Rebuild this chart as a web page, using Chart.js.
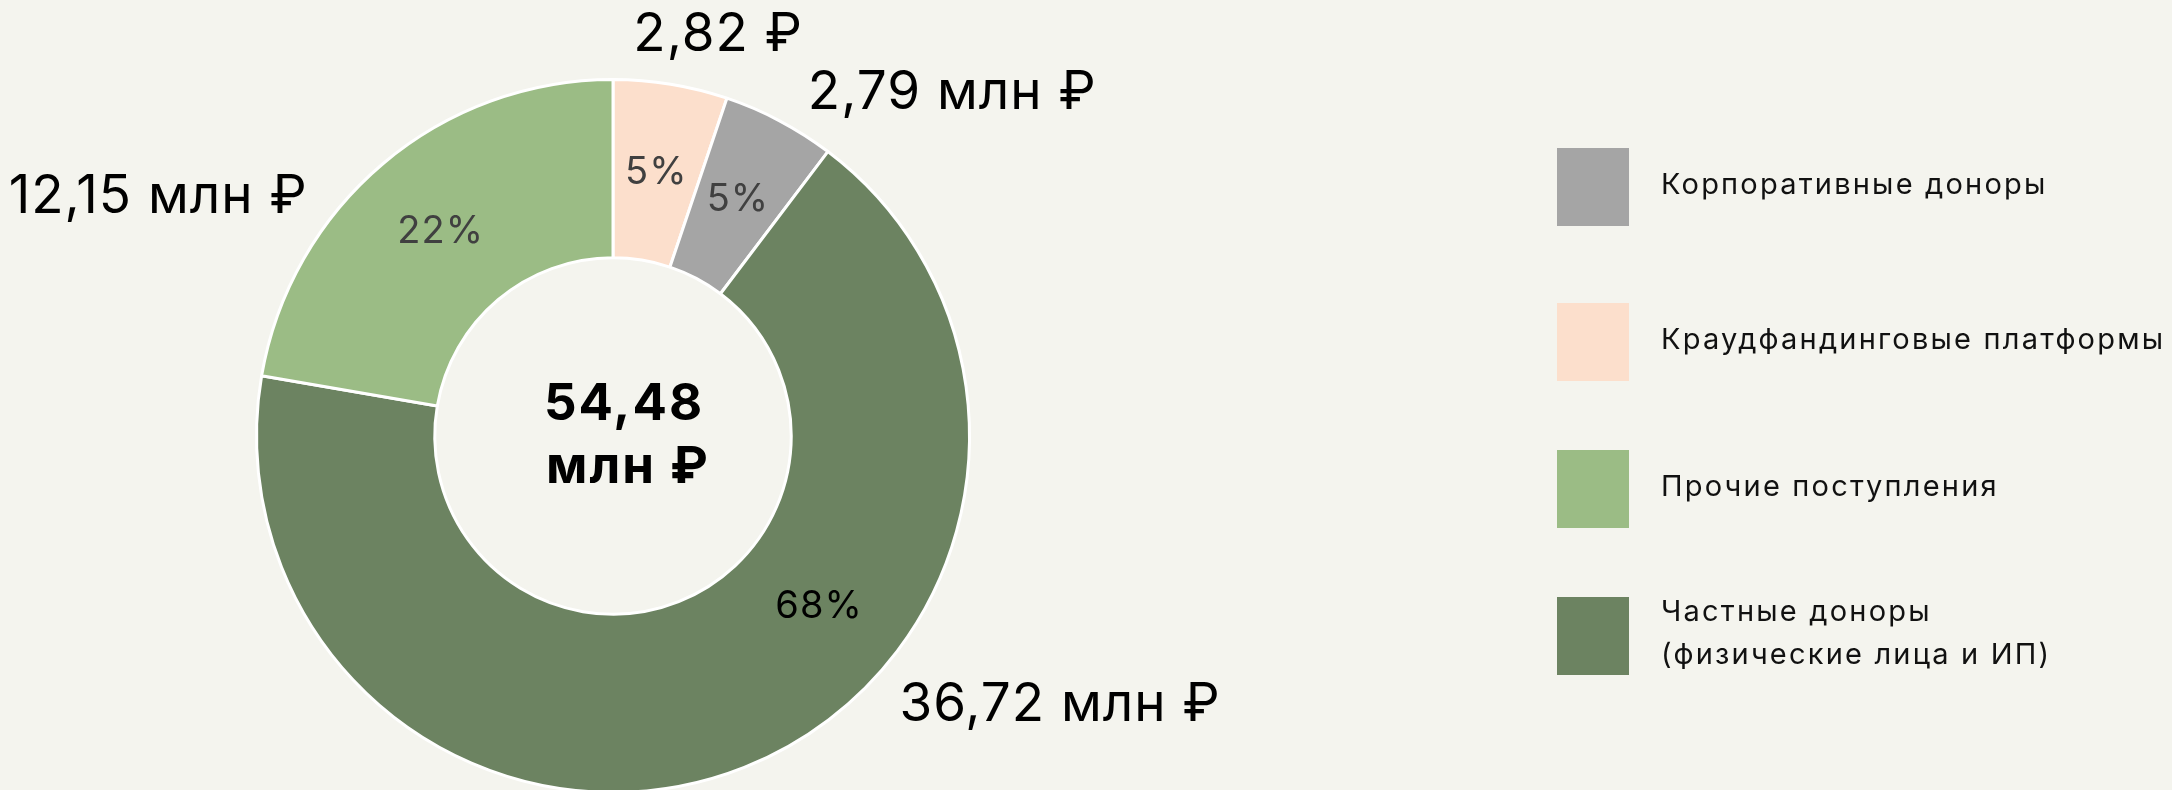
<!DOCTYPE html>
<html lang="ru">
<head>
    <meta charset="UTF-8">
    <title>Структура поступлений</title>
    <script src="https://cdn.jsdelivr.net/npm/chart.js"></script>
    <style>
        html, body {
            margin: 0;
            padding: 0;
            overflow: hidden;
            background: #F4F4EE;
        }

        .chart-container {
            position: relative;
            width: 2172px;
            height: 800px;
        }
    </style>
</head>
<body>
    <div class="chart-container">
        <canvas id="incomeChart"></canvas>
    </div>

    <script>
        // Data (clockwise from the top of the ring)
        const categories = [
            ['Краудфандинговые платформы'],
            ['Корпоративные доноры'],
            ['Частные доноры', '(физические лица и ИП)'],
            ['Прочие поступления']
        ];
        const amounts = [2.82, 2.79, 36.72, 12.15];          // млн ₽
        const amountLabels = ['2,82 ₽', '2,79 млн ₽', '36,72 млн ₽', '12,15 млн ₽'];
        const colors = ['#FCDFCC', '#A5A5A5', '#6C8361', '#9BBC85'];
        const legendOrder = [1, 0, 3, 2];
        const FONT = 'Inter, "Noto Sans", sans-serif';

        // Percent labels rounded so they add up to 100 (largest remainder)
        function roundedPercents(values) {
            const total = values.reduce((a, b) => a + b, 0);
            const raw = values.map(v => v / total * 100);
            const out = raw.map(Math.floor);
            let left = 100 - out.reduce((a, b) => a + b, 0);
            const order = raw.map((r, i) => [r - Math.floor(r), i]).sort((a, b) => b[0] - a[0]);
            for (let k = 0; k < left; k++) out[order[k][1]]++;
            return out.map(p => p + '%');
        }
        const percentLabels = roundedPercents(amounts);

        // Placement of the labels: angle (deg from top, clockwise) and distance in outer radii
        const amountLabelPos = [[14.6, 1.17], [44.4, 1.36], [120.8, 1.46], [298, 1.445]];
        const percentAngle = [null, null, 129.6, null];
        const percentColors = ['#404040', '#404040', '#000000', '#404040'];

        const labelsPlugin = {
            id: 'labels',
            afterDatasetsDraw(chart) {
                const ctx = chart.ctx;
                const meta = chart.getDatasetMeta(0);
                const arc0 = meta.data[0];
                const cx = arc0.x, cy = arc0.y;
                const outer = arc0.outerRadius, inner = arc0.innerRadius;
                ctx.save();
                ctx.textAlign = 'center';
                ctx.textBaseline = 'middle';

                meta.data.forEach((arc, i) => {
                    // percent inside the ring
                    let a = (arc.startAngle + arc.endAngle) / 2;
                    if (percentAngle[i] !== null) a = (percentAngle[i] - 90) * Math.PI / 180;
                    const r = (outer + inner) / 2;
                    ctx.font = '38px ' + FONT;
                    ctx.letterSpacing = '1px';
                    ctx.fillStyle = percentColors[i];
                    ctx.fillText(percentLabels[i], cx + Math.cos(a) * r, cy + Math.sin(a) * r);

                    // amount outside the ring
                    const [deg, k] = amountLabelPos[i];
                    const b = (deg - 90) * Math.PI / 180;
                    ctx.font = '53px ' + FONT;
                    ctx.letterSpacing = '1px';
                    ctx.fillStyle = '#000000';
                    ctx.fillText(amountLabels[i], cx + Math.cos(b) * outer * k, cy + Math.sin(b) * outer * k + 3);
                });

                // total in the hole
                const total = amounts.reduce((s, v) => s + v, 0);
                ctx.font = 'bold 51px ' + FONT;
                ctx.letterSpacing = '2px';
                ctx.textAlign = 'left';
                ctx.textBaseline = 'alphabetic';
                ctx.fillStyle = '#000000';
                ctx.fillText(total.toFixed(2).replace('.', ','), cx - 69, cy - 16);
                ctx.fillText('млн ₽', cx - 67, cy + 47);
                ctx.restore();
            }
        };

        const legendPlugin = {
            id: 'sideLegend',
            afterDraw(chart, args, opts) {
                const ctx = chart.ctx;
                ctx.save();
                legendOrder.forEach((idx, row) => {
                    const top = opts.tops[row];
                    ctx.fillStyle = colors[idx];
                    ctx.fillRect(opts.x, top, opts.box, opts.boxH);
                    ctx.fillStyle = '#111111';
                    ctx.font = '29px ' + FONT;
                    ctx.letterSpacing = '2.2px';
                    ctx.textAlign = 'left';
                    ctx.textBaseline = 'middle';
                    const lines = categories[idx];
                    const mid = top + opts.boxH / 2 - 2;
                    lines.forEach((line, j) => {
                        const y = mid + (j - (lines.length - 1) / 2) * 43;
                        ctx.fillText(line, opts.x + opts.box + 32, y);
                    });
                });
                ctx.restore();
            }
        };

        new Chart(document.getElementById('incomeChart'), {
            type: 'doughnut',
            data: {
                labels: categories.map(c => c.join(' ')),
                datasets: [{
                    data: amounts,
                    backgroundColor: colors,
                    borderColor: '#FFFFFF',
                    borderWidth: 3
                }]
            },
            options: {
                responsive: true,
                maintainAspectRatio: false,
                animation: false,
                events: [],
                cutout: '50%',
                layout: {
                    padding: { left: 255, right: 1201, top: 78, bottom: 6 }
                },
                plugins: {
                    legend: { display: false },
                    tooltip: { enabled: false },
                    sideLegend: { x: 1557, box: 72, boxH: 78, tops: [148, 303, 450, 597] }
                }
            },
            plugins: [labelsPlugin, legendPlugin]
        });
    </script>
</body>
</html>
